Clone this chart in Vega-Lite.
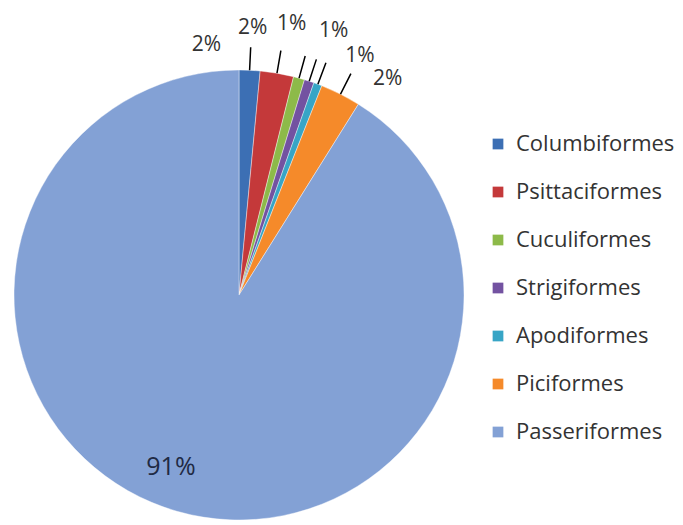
{
  "$schema": "https://vega.github.io/schema/vega-lite/v6.json",
  "width": 450,
  "height": 450,
  "padding": {"left": 13, "top": 3, "right": 0, "bottom": 5},
  "background": "white",
  "config": {"view": {"stroke": null}, "font": "Open Sans"},
  "data": {
    "values": [
      {"rank": 1, "name": "Columbiformes", "value": 1.5, "label": "2%"},
      {"rank": 2, "name": "Psittaciformes", "value": 2.4, "label": "2%"},
      {"rank": 3, "name": "Cuculiformes", "value": 0.8, "label": "1%"},
      {"rank": 4, "name": "Strigiformes", "value": 0.7, "label": "1%"},
      {"rank": 5, "name": "Apodiformes", "value": 0.6, "label": "1%"},
      {"rank": 6, "name": "Piciformes", "value": 2.9, "label": "2%"},
      {"rank": 7, "name": "Passeriformes", "value": 91.1, "label": "91%"}
    ]
  },
  "encoding": {
    "theta": {"field": "value", "type": "quantitative", "stack": true},
    "order": {"field": "rank", "type": "quantitative", "sort": "ascending"}
  },
  "layer": [
    {
      "mark": {"type": "arc", "stroke": "#ffffff", "strokeWidth": 0.4},
      "encoding": {
        "color": {
          "field": "name",
          "type": "nominal",
          "scale": {
            "domain": ["Columbiformes", "Psittaciformes", "Cuculiformes", "Strigiformes", "Apodiformes", "Piciformes", "Passeriformes"],
            "range": ["#3C6FB4", "#C4393A", "#8DBA49", "#7352A1", "#37A5C6", "#F58A2A", "#83A1D5"]
          },
          "legend": {
            "title": null,
            "orient": "none",
            "legendX": 473,
            "legendY": 63,
            "padding": 0,
            "symbolType": "square",
            "symbolSize": 115,
            "symbolStrokeWidth": 0,
            "labelFont": "Open Sans",
            "labelFontSize": 22,
            "labelColor": "#333333",
            "labelOffset": 7,
            "rowPadding": 26,
            "labelLimit": 300
          }
        }
      }
    },
    {
      "transform": [
        {"stack": "value", "groupby": [], "sort": [{"field": "rank", "order": "ascending"}], "as": ["v0", "v1"]},
        {"filter": "datum.name !== 'Passeriformes'"}
      ],
      "mark": {"type": "arc", "filled": false, "color": "#000000", "strokeWidth": 1.5, "radius": 248, "radius2": 225, "padAngle": 1.5},
      "encoding": {
        "theta": {"field": "v0", "type": "quantitative", "stack": null},
        "theta2": {"field": "v1"},
        "order": null
      }
    },
    {
      "mark": {"type": "text", "radius": 265, "dx": -45, "dy": 15, "fontSize": 21, "color": "#333333"},
      "encoding": {"text": {"condition": {"test": "datum.name === 'Columbiformes'", "field": "label"}, "value": ""}}
    },
    {
      "mark": {"type": "text", "radius": 265, "dx": -31, "dy": -6, "fontSize": 21, "color": "#333333"},
      "encoding": {"text": {"condition": {"test": "datum.name === 'Psittaciformes'", "field": "label"}, "value": ""}}
    },
    {
      "mark": {"type": "text", "radius": 265, "dx": -18, "dy": -16, "fontSize": 21, "color": "#333333"},
      "encoding": {"text": {"condition": {"test": "datum.name === 'Cuculiformes'", "field": "label"}, "value": ""}}
    },
    {
      "mark": {"type": "text", "radius": 265, "dx": 12, "dy": -12, "fontSize": 21, "color": "#333333"},
      "encoding": {"text": {"condition": {"test": "datum.name === 'Strigiformes'", "field": "label"}, "value": ""}}
    },
    {
      "mark": {"type": "text", "radius": 265, "dx": 28, "dy": 9, "fontSize": 21, "color": "#333333"},
      "encoding": {"text": {"condition": {"test": "datum.name === 'Apodiformes'", "field": "label"}, "value": ""}}
    },
    {
      "mark": {"type": "text", "radius": 265, "dx": 29, "dy": 20, "fontSize": 21, "color": "#333333"},
      "encoding": {"text": {"condition": {"test": "datum.name === 'Piciformes'", "field": "label"}, "value": ""}}
    },
    {
      "mark": {"type": "text", "radius": 185, "dx": -17, "dy": -6, "fontSize": 25, "color": "#1f2a44"},
      "encoding": {"text": {"condition": {"test": "datum.name === 'Passeriformes'", "field": "label"}, "value": ""}}
    }
  ]
}
